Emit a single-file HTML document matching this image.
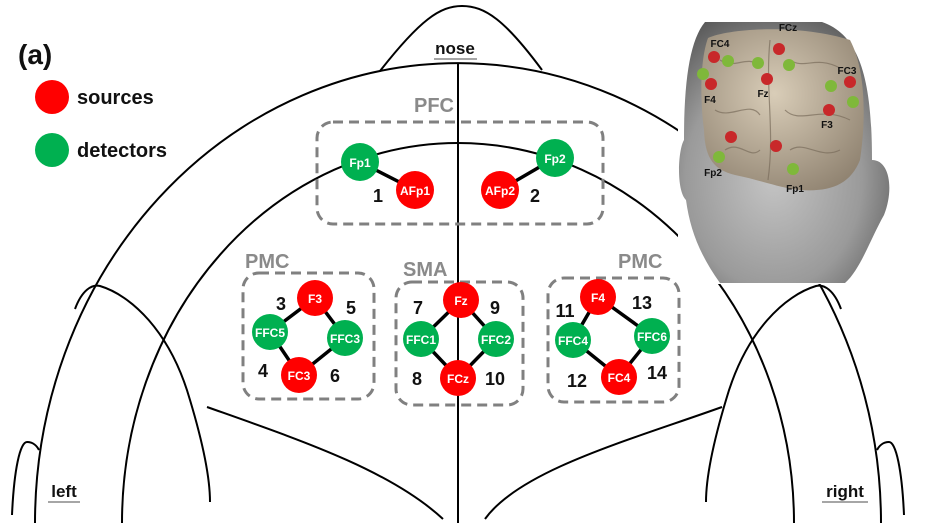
<!DOCTYPE html>
<html><head><meta charset="utf-8"><style>
html,body{margin:0;padding:0;background:#fff;width:928px;height:524px;overflow:hidden;}
svg{display:block;font-family:"Liberation Sans",sans-serif;overflow:hidden;}
.w{fill:#fff;font-weight:bold;font-size:12px;text-anchor:middle;}
.n{fill:#111;font-weight:bold;font-size:18px;text-anchor:middle;}
.g{fill:#8a8a8a;font-weight:bold;font-size:20px;}
.b{fill:none;stroke:#808080;stroke-width:3;stroke-dasharray:10 6;}
.l{stroke:#000;stroke-width:3.5;}
</style></head><body>
<svg width="928" height="524" viewBox="0 0 928 524">
<g fill="none" stroke="#000" stroke-width="2">
<path d="M380,71 C420,20 440,6 462,6 C485,6 505,20 542,70"/>
<path d="M35,523 A423,460 0 0 1 881,523"/>
<path d="M122,523 A336,380 0 0 1 794,523"/>
<line x1="458" y1="64" x2="458" y2="523"/>
<path d="M75,309 C82,290 92,284 100,286 C130,295 170,330 190,400 C205,450 210,480 210,502"/>
<path d="M841,309 C834,290 824,284 816,286 C786,295 746,330 726,400 C711,450 706,480 706,502"/>
<path d="M12,515 C14,470 20,442 27,442 C33,442 37,446 39,450"/>
<path d="M904,515 C902,470 896,442 889,442 C883,442 879,446 877,450"/>
<path d="M207,407 C300,440 390,470 443,519"/>
<path d="M722,407 C630,440 520,470 485,519"/>
</g>
<text x="18" y="64" font-size="28" font-weight="bold" fill="#111">(a)</text>
<circle cx="52" cy="97" r="17" fill="#ff0000"/>
<text x="77" y="104" font-size="20" font-weight="bold" fill="#111">sources</text>
<circle cx="52" cy="150" r="17" fill="#00b050"/>
<text x="77" y="157" font-size="20" font-weight="bold" fill="#111">detectors</text>
<text x="455" y="54" font-size="17" font-weight="bold" fill="#111" text-anchor="middle">nose</text>
<line x1="434" y1="59" x2="477" y2="59" stroke="#888" stroke-width="1.5"/>
<text x="64" y="497" font-size="17" font-weight="bold" fill="#111" text-anchor="middle">left</text>
<line x1="48" y1="502" x2="80" y2="502" stroke="#888" stroke-width="1.5"/>
<text x="845" y="497" font-size="17" font-weight="bold" fill="#111" text-anchor="middle">right</text>
<line x1="822" y1="502" x2="868" y2="502" stroke="#888" stroke-width="1.5"/>

<text class="g" x="414" y="112">PFC</text>
<rect class="b" x="317" y="122" width="286" height="102" rx="16"/>
<line class="l" x1="360" y1="162" x2="415" y2="190"/>
<line class="l" x1="555" y1="158" x2="500" y2="190"/>
<circle cx="360" cy="162" r="19" fill="#00b050"/><text class="w" x="360" y="167">Fp1</text>
<circle cx="415" cy="190" r="19" fill="#ff0000"/><text class="w" x="415" y="195">AFp1</text>
<circle cx="555" cy="158" r="19" fill="#00b050"/><text class="w" x="555" y="163">Fp2</text>
<circle cx="500" cy="190" r="19" fill="#ff0000"/><text class="w" x="500" y="195">AFp2</text>
<text class="n" x="378" y="202">1</text><text class="n" x="535" y="202">2</text>

<text class="g" x="245" y="268">PMC</text>
<rect class="b" x="243" y="273" width="131" height="126" rx="16"/>
<path class="l" fill="none" d="M315,298 L270,332 L299,375 L345,338 Z"/>
<circle cx="315" cy="298" r="18" fill="#ff0000"/><text class="w" x="315" y="303">F3</text>
<circle cx="270" cy="332" r="18" fill="#00b050"/><text class="w" x="270" y="337">FFC5</text>
<circle cx="345" cy="338" r="18" fill="#00b050"/><text class="w" x="345" y="343">FFC3</text>
<circle cx="299" cy="375" r="18" fill="#ff0000"/><text class="w" x="299" y="380">FC3</text>
<text class="n" x="281" y="310">3</text><text class="n" x="351" y="314">5</text>
<text class="n" x="263" y="377">4</text><text class="n" x="335" y="382">6</text>

<text class="g" x="403" y="276">SMA</text>
<rect class="b" x="396" y="282" width="127" height="123" rx="16"/>
<path class="l" fill="none" d="M461,300 L421,339 L458,378 L496,339 Z"/>
<circle cx="461" cy="300" r="18" fill="#ff0000"/><text class="w" x="461" y="305">Fz</text>
<circle cx="421" cy="339" r="18" fill="#00b050"/><text class="w" x="421" y="344">FFC1</text>
<circle cx="496" cy="339" r="18" fill="#00b050"/><text class="w" x="496" y="344">FFC2</text>
<circle cx="458" cy="378" r="18" fill="#ff0000"/><text class="w" x="458" y="383">FCz</text>
<text class="n" x="418" y="314">7</text><text class="n" x="495" y="314">9</text>
<text class="n" x="417" y="385">8</text><text class="n" x="495" y="385">10</text>

<text class="g" x="618" y="268">PMC</text>
<rect class="b" x="548" y="278" width="131" height="124" rx="16"/>
<path class="l" fill="none" d="M598,297 L573,340 L619,377 L652,336 Z"/>
<circle cx="598" cy="297" r="18" fill="#ff0000"/><text class="w" x="598" y="302">F4</text>
<circle cx="573" cy="340" r="18" fill="#00b050"/><text class="w" x="573" y="345">FFC4</text>
<circle cx="652" cy="336" r="18" fill="#00b050"/><text class="w" x="652" y="341">FFC6</text>
<circle cx="619" cy="377" r="18" fill="#ff0000"/><text class="w" x="619" y="382">FC4</text>
<text class="n" x="565" y="317">11</text><text class="n" x="642" y="309">13</text>
<text class="n" x="577" y="387">12</text><text class="n" x="657" y="379">14</text>

<defs>
<radialGradient id="hg" cx="0.45" cy="0.6" r="0.7">
<stop offset="0" stop-color="#c4c4c4"/><stop offset="0.6" stop-color="#9a9a9a"/><stop offset="1" stop-color="#555"/>
</radialGradient>
<radialGradient id="bg" cx="0.45" cy="0.4" r="0.7">
<stop offset="0" stop-color="#d9cdb8"/><stop offset="1" stop-color="#8f8270"/>
</radialGradient>
</defs>
<rect x="678" y="20" width="216" height="264" fill="#fff"/>
<path d="M705,22 L822,22 C860,35 872,80 872,160 C890,160 894,190 884,215 C870,240 860,270 845,283 L720,283 C700,255 690,230 686,200 C676,190 678,150 684,140 C684,80 690,40 705,22 Z" fill="url(#hg)"/>
<path d="M708,38 C730,28 800,24 850,40 C866,70 866,120 860,160 C850,185 830,192 800,190 C780,188 760,180 735,175 C715,170 705,160 704,130 C700,100 700,60 708,38 Z" fill="url(#bg)"/>
<g stroke="#7a6d5c" stroke-width="1.2" fill="none" opacity="0.7">
<path d="M770,40 C765,90 775,130 768,180"/>
<path d="M720,60 C735,70 745,55 760,65 M790,60 C805,70 815,55 840,68 M715,110 C730,120 750,100 760,115 M785,110 C800,125 820,105 850,120 M725,150 C740,140 750,160 760,150 M790,150 C805,140 820,160 840,150"/>
</g>
<g fill="#c8282a">
<circle cx="714" cy="57" r="6"/><circle cx="779" cy="49" r="6"/><circle cx="767" cy="79" r="6"/><circle cx="711" cy="84" r="6"/>
<circle cx="850" cy="82" r="6"/><circle cx="829" cy="110" r="6"/><circle cx="731" cy="137" r="6"/><circle cx="776" cy="146" r="6"/>
</g>
<g fill="#7fb83a">
<circle cx="728" cy="61" r="6"/><circle cx="758" cy="63" r="6"/><circle cx="789" cy="65" r="6"/><circle cx="703" cy="74" r="6"/>
<circle cx="831" cy="86" r="6"/><circle cx="853" cy="102" r="6"/><circle cx="719" cy="157" r="6"/><circle cx="793" cy="169" r="6"/>
</g>
<g font-size="10" font-weight="bold" fill="#111" text-anchor="middle">
<text x="788" y="31">FCz</text><text x="720" y="47">FC4</text><text x="847" y="74">FC3</text>
<text x="710" y="103">F4</text><text x="763" y="97">Fz</text><text x="827" y="128">F3</text>
<text x="713" y="176">Fp2</text><text x="795" y="192">Fp1</text>
</g>
</svg>
</body></html>
